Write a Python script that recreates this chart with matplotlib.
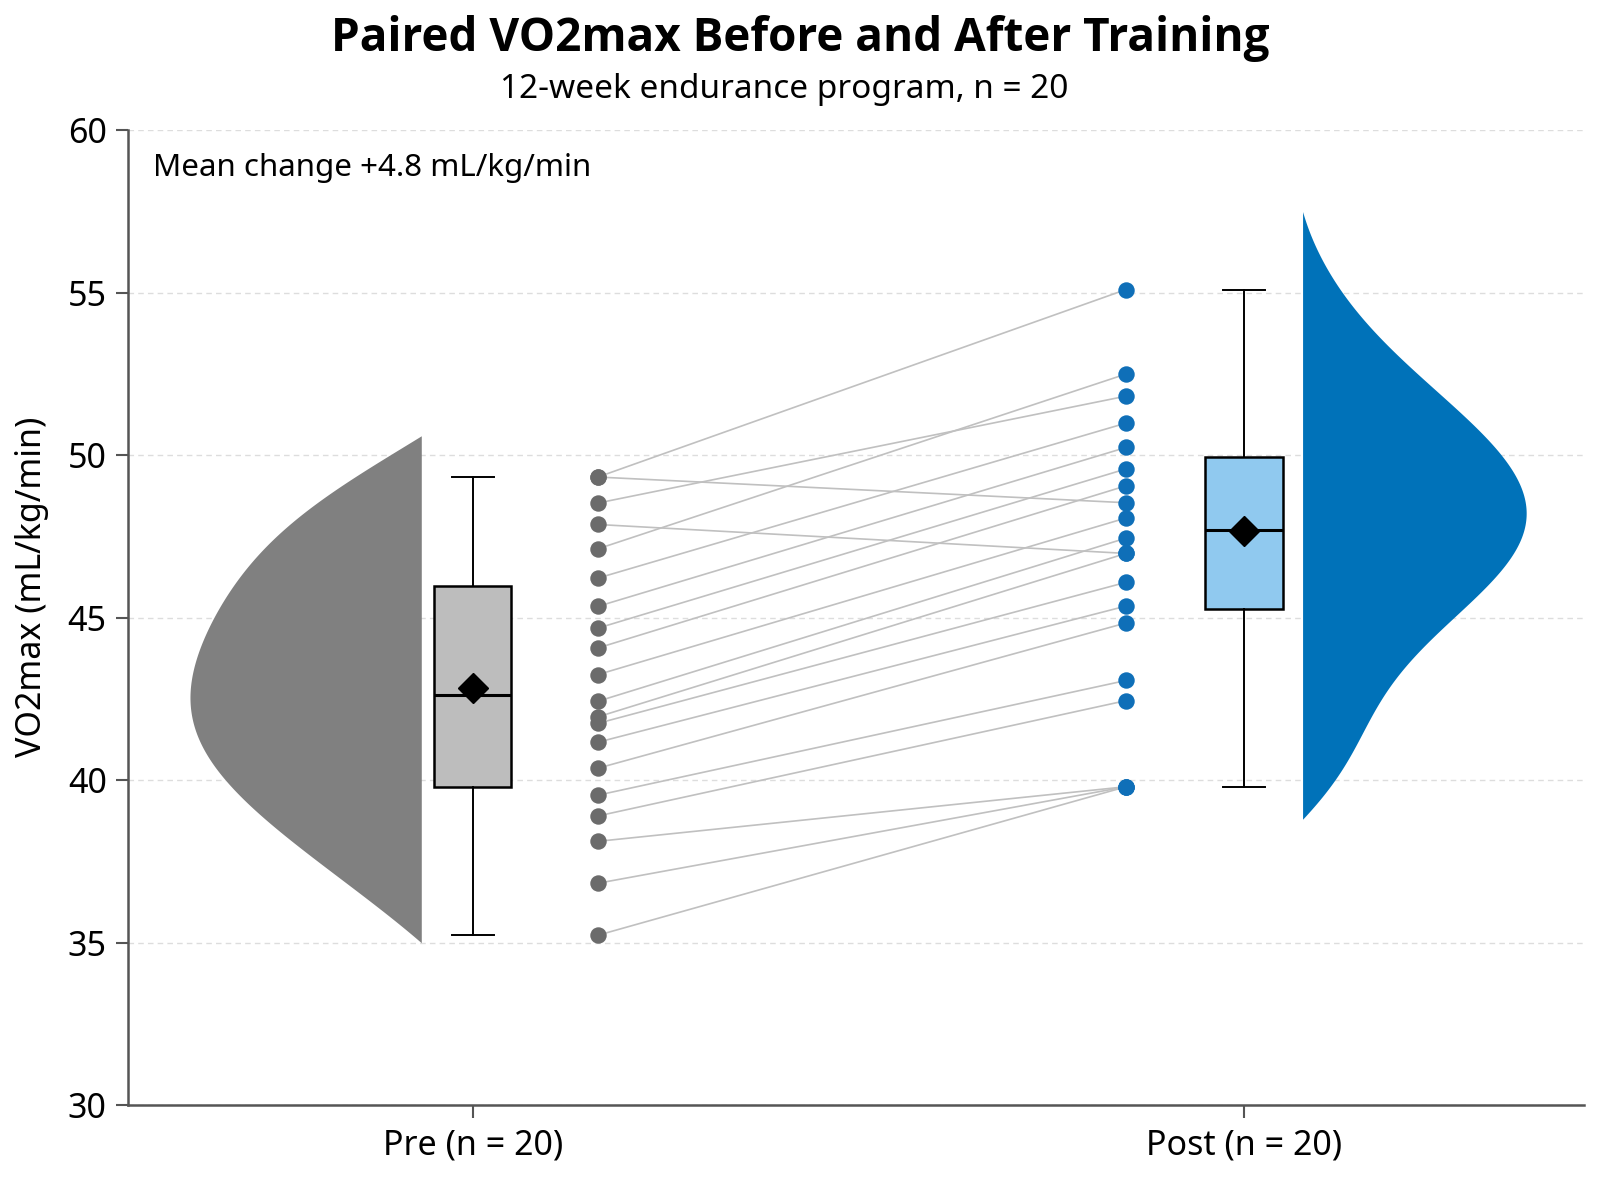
import numpy as np
import matplotlib.pyplot as plt
from matplotlib import font_manager as fm

plt.rcParams['font.family'] = ['Noto Sans', 'DejaVu Sans']

tick_labels = ['Pre (n = 20)', 'Post (n = 20)']
# one entry per subject, same order in both lists
pre = np.array([49.33, 49.33, 48.53, 47.87, 47.12, 46.22, 45.35, 44.68, 44.07, 43.25,
                42.43, 41.95, 41.75, 41.17, 40.37, 39.54, 38.90, 38.12, 36.83, 35.23])
post = np.array([55.10, 48.54, 51.82, 46.98, 52.50, 50.99, 50.24, 49.58, 49.06, 48.07,
                 47.45, 46.98, 46.09, 45.36, 44.84, 43.07, 42.45, 39.80, 39.80, 39.80])
# box summaries: whislo, q1, median, q3, whishi, mean
pre_box = [35.23, 39.80, 42.62, 45.98, 49.33, 42.83]
post_box = [39.80, 45.28, 47.69, 49.95, 55.10, 47.66]
# extent of the half violins
pre_range = [35.0, 50.6]
post_range = [38.8, 57.5]

c_pre_dot = '#6b6b6b'
c_pre_kde = '#808080'
c_pre_box = '#bdbdbd'
c_post_dot = '#0f6fb8'
c_post_kde = '#0072b9'
c_post_box = '#90c9ef'

# a family that really has a bold face, for the title
bold_fams = {f.name for f in fm.fontManager.ttflist if f.weight in (700, 'bold')}
title_fam = next((f for f in ['Noto Sans', 'Open Sans', 'Roboto', 'Lato', 'Inter']
                  if f in bold_fams), 'DejaVu Sans')


def half_kde(data, lo, hi, bw):
    g = np.linspace(lo, hi, 300)
    z = (g[:, None] - data[None, :]) / bw
    d = np.exp(-0.5 * z ** 2).sum(1)
    d = d - np.interp(g, [lo, hi], [d[0], d[-1]])
    d = np.clip(d, 0, None)
    return g, d / d.max()


fig = plt.figure(figsize=(16, 12), dpi=100)
ax = fig.add_axes([0.0797, 0.079, 0.9103, 0.8124])

# half violins
g, d = half_kde(pre, pre_range[0], pre_range[1], 2.8)
ax.fill_betweenx(g, -0.067 - 0.30 * d, -0.067, color=c_pre_kde, lw=0, zorder=1)
g, d = half_kde(post, post_range[0], post_range[1], 2.4)
ax.fill_betweenx(g, 1.076, 1.076 + 0.29 * d, color=c_post_kde, lw=0, zorder=1)

# boxes
for pos, st, fc in [(0, pre_box, c_pre_box), (1, post_box, c_post_box)]:
    stats = [dict(whislo=st[0], q1=st[1], med=st[2], q3=st[3], whishi=st[4],
                  mean=st[5], fliers=[])]
    ax.bxp(stats, positions=[pos], widths=0.1, capwidths=0.055, showmeans=True,
           patch_artist=True, manage_ticks=False,
           boxprops=dict(facecolor=fc, edgecolor='black', linewidth=1.8),
           medianprops=dict(color='black', linewidth=2.2),
           whiskerprops=dict(color='black', linewidth=1.4),
           capprops=dict(color='black', linewidth=1.4),
           meanprops=dict(marker='D', markerfacecolor='black',
                          markeredgecolor='black', markersize=15))

# paired lines and dots
x_pre, x_post = 0.162, 0.847
for a, b in zip(pre, post):
    ax.plot([x_pre, x_post], [a, b], color='#c0c0c0', lw=1.2, zorder=2)
ax.scatter(np.full(len(pre), x_pre), pre, s=140, color=c_pre_dot, zorder=3, lw=0)
ax.scatter(np.full(len(post), x_post), post, s=140, color=c_post_dot, zorder=3, lw=0)

ax.set_xlim(-0.448, 1.441)
ax.set_ylim(30, 60)
ax.set_yticks(np.arange(30, 61, 5))
ax.set_xticks([0, 1])
ax.set_xticklabels(tick_labels)
ax.tick_params(axis='both', labelsize=24.5, length=9, width=1.5, color='#555555')
ax.tick_params(axis='x', pad=8)
ax.tick_params(axis='y', pad=6)
ax.set_ylabel('VO2max (mL/kg/min)', fontsize=24.5)
ax.yaxis.set_label_coords(-0.054, 0.532)
ax.yaxis.grid(True, ls=(0, (4, 3)), color='#dddddd', lw=1)
ax.set_axisbelow(True)
for s in ['top', 'right']:
    ax.spines[s].set_visible(False)
for s in ['left', 'bottom']:
    ax.spines[s].set_color('#555555')
    ax.spines[s].set_linewidth(1.8)

ax.text(0.0175, 0.9615, 'Mean change +4.8 mL/kg/min', transform=ax.transAxes,
        fontsize=22.5, ha='left', va='center')
fig.text(0.5, 0.968, 'Paired VO2max Before and After Training', ha='center',
         va='center', fontsize=33, fontweight='bold', family=[title_fam, 'DejaVu Sans'])
fig.text(0.49, 0.925, '12-week endurance program, n = 20', ha='center',
         va='center', fontsize=24)

fig.savefig('out.png', dpi=100)
